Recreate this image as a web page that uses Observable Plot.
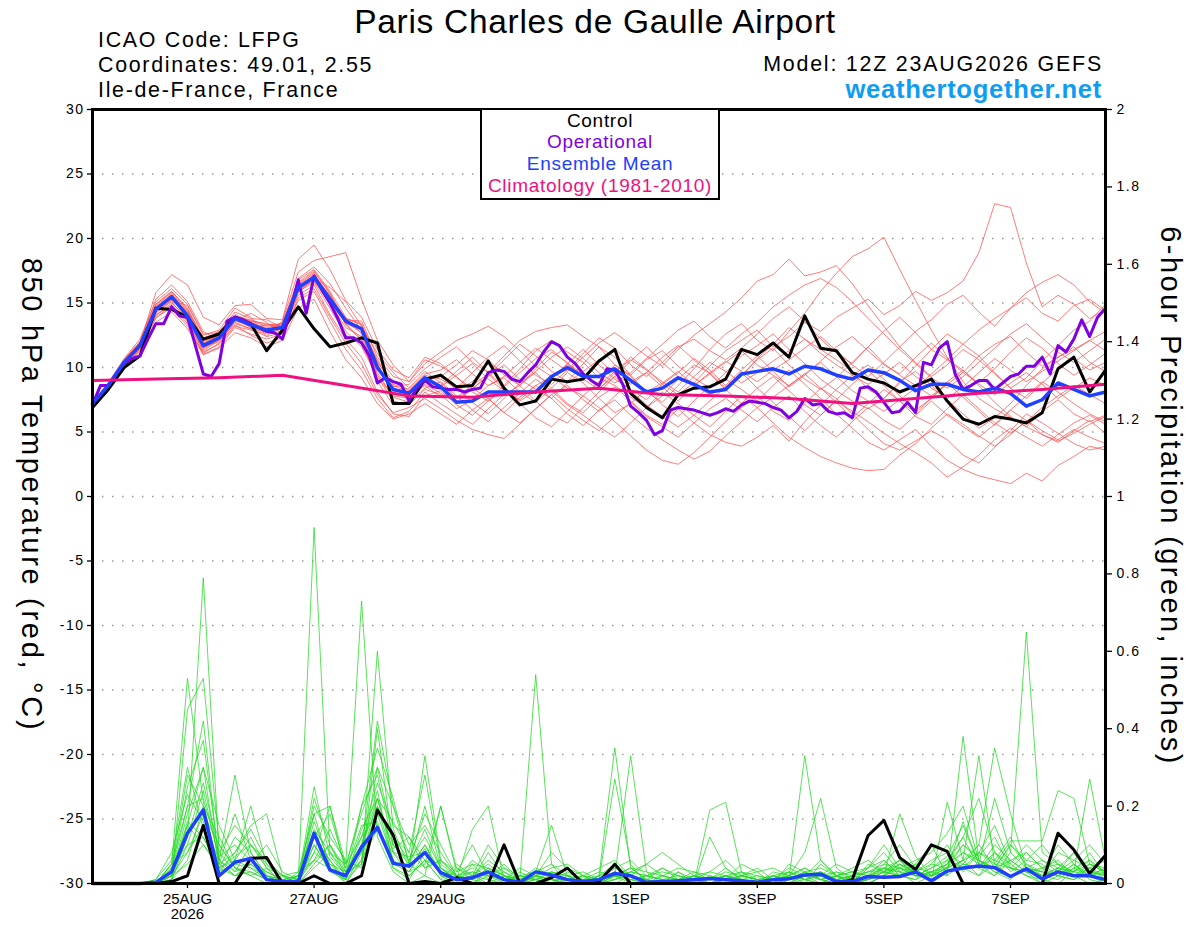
<!DOCTYPE html>
<html>
<head>
<meta charset="utf-8">
<script src="https://cdn.jsdelivr.net/npm/d3@7"></script>
<script src="https://cdn.jsdelivr.net/npm/@observablehq/plot@0.6"></script>
<style>
html, body { margin: 0; padding: 0; background: #fff; }
#chart { position: relative; width: 1200px; height: 927px; }
</style>
</head>
<body>
<div id="chart"></div>
<script>
// ---------- time base ----------
const runStartUTC = Date.UTC(2026, 7, 23, 12); // 12Z 23AUG2026
const stepHours = 6;
const operStepHours = 3;
const climStepHours = 24;

// ---------- 850 hPa temperature (°C) ----------
const controlTemp = [6.9,8.3,10.0,10.9,14.6,14.5,13.9,12.2,12.6,13.9, 13.4,11.3,12.9,14.7,13.0,11.6,11.9,12.3,11.9,7.2, 7.2,9.1,9.4,8.5,8.6,10.5,8.4,7.1,7.4,9.1, 8.9,9.1,10.5,11.4,8.0,6.9,6.1,7.9,8.4,8.5, 9.1,11.4,11.0,11.9,10.8,14.0,11.5,11.3,9.6,9.1, 8.8,8.1,8.6,9.1,7.4,6.0,5.6,6.2,6.0,5.7, 6.5,9.9,10.8,8.1,9.8];
const meanTemp = [7.2,8.6,10.4,11.7,14.5,15.5,14.0,11.7,12.3,13.8, 13.3,12.9,13.1,16.2,17.0,15.3,13.6,13.0,10.0,8.3, 8.0,9.2,8.5,7.3,7.4,8.1,8.1,8.1,8.1,9.3, 10.0,9.3,9.3,9.9,9.0,8.1,8.4,9.2,8.7,8.1, 8.3,9.5,9.7,9.9,9.5,10.1,9.9,9.4,9.1,9.8, 9.6,9.0,8.2,8.7,8.7,8.3,8.1,8.4,8.0,7.0, 7.5,8.8,8.3,7.8,8.1];
const operTemp = [7.1,8.6,8.6,9.5,10.3,10.7,10.9,12.2,13.4,13.4, 14.7,14.0,13.9,11.7,9.5,9.3,10.3,13.6,13.9,13.7, 13.4,13.1,12.8,12.7,12.2,14.4,16.8,14.2,17.1,16.0, 15.0,13.8,12.3,12.3,11.9,10.9,8.8,9.2,8.9,8.7, 7.4,8.4,9.0,
  8.5,8.4,8.3,8.3,8.1,8.3,8.4,9.6,9.8,9.7, 9.1,8.9,9.6,10.2,11.2,12.0,11.7,10.8,10.3,9.5, 9.0,8.6,9.9,9.8,8.7,7.0,6.5,5.9,4.8,5.1, 6.7,6.9,6.8,6.7,6.5,6.3,6.5,6.8,6.6,7.1, 7.4,7.3,
  7.2,6.9,6.7,6.1,6.6,7.6,7.1,7.2,6.6,6.4, 6.5,6.1,8.4,8.5,8.1,7.3,6.5,6.6,7.3,6.5, 10.4,10.2,11.5,12.0,9.5,8.3,8.6,9.0,9.0,8.3, 8.8,9.3,9.5,10.1,10.1,10.8,9.5,11.7,11.2,12.2, 13.7,12.4,13.9,14.6];
const climTemp = [9.0,9.1,9.2,9.4,8.6,7.8,7.7,8.1,8.4,7.9,7.8,7.6,7.2,7.6,8.0,8.3,8.7];

const memberTemps = [
 [7.0,8.4,10.2,11.9,14.9,15.9,14.6,12.1,12.8,14.1,13.6,13.2,13.4, 16.8,17.6,15.9,13.9,12.6,9.4,7.8,7.6,8.8, 9.5,8.2,8.9,10.3,9.7,8.6,9.9,11.2,10.4,9.1,8.3,9.6,10.8,9.9,8.7,7.9,8.8,10.1,11.3, 12.1,12.9,11.6,12.4,13.5,12.8,13.9,14.6,15.3,14.1,14.8,15.9,15.2,15.8,16.7,18.9,22.7,22.4,18.1,14.7,15.6,14.9,13.8,14.5],
 [7.3,8.8,10.6,12.0,15.3,16.4,15.1,12.8,12.1,13.6,14.2,13.5,12.6, 15.8,16.9,16.2,15.1,13.2,11.1,9.6,8.4,9.7, 8.8,7.6,8.3,9.4,10.6,11.8,10.9,9.7,8.9,10.3,11.6,10.8,9.4,8.1,7.3,8.6,9.9,11.4,12.6, 13.4,12.1,11.3,12.8,14.2,15.9,17.3,18.6,19.2,20.1,17.6,15.2,12.9,10.8,8.9,7.6,6.8,6.1,5.4,4.8,4.3,4.9,5.6,6.2],
 [6.9,8.5,10.5,11.8,14.2,15.2,14.8,12.5,12.9,14.6,13.9,12.4,13.6, 17.4,18.3,18.6,18.9,15.3,12.1,10.2,8.9,10.6, 10.1,9.3,8.1,7.4,8.6,9.9,11.3,12.1,11.2,10.4,9.2,8.6,7.7,6.9,7.8,9.1,10.2,9.6,8.4, 9.3,10.7,11.8,13.1,12.2,11.4,10.6,9.7,8.3,7.6,8.8,10.1,11.4,12.6,11.8,10.9,9.6,8.4,9.2,10.5,11.7,12.9,13.6,14.9],
 [7.0,8.4,10.1,11.4,13.8,14.9,13.6,11.2,11.8,13.2,12.9,12.6,12.8, 15.6,16.4,14.1,12.2,10.8,8.1,6.4,6.2,7.8, 8.2,7.1,6.3,7.4,8.3,7.2,6.1,5.4,6.6,7.8,6.9,5.8,4.7,3.6,2.8,2.5,3.4,4.6,5.8, 6.9,7.8,6.6,5.9,7.2,8.4,7.6,6.4,5.2,4.1,3.6,4.3,5.1,4.4,3.2,2.6,3.8,5.1,6.4,5.7,4.9,4.1,3.6,3.9],
 [7.2,8.7,10.4,11.7,14.4,15.6,14.2,11.9,12.4,13.9,13.1,13.3,13.4, 16.5,17.4,15.8,13.3,12.1,9.8,8.5,8.7,9.9, 10.8,11.6,10.4,9.6,10.9,12.1,12.8,13.1,13.3,12.4,11.6,10.2,9.4,10.6,11.3,10.1,9.2,8.4,9.6, 10.9,11.7,12.6,11.4,10.3,9.1,8.2,7.4,6.8,7.6,8.9,9.7,8.6,7.5,6.4,5.3,6.1,7.2,8.6,9.9,10.8,11.6,10.4,9.7],
 [7.1,8.6,10.3,11.6,14.7,15.4,13.8,11.4,12.2,13.7,13.5,13.0,12.9, 16.1,16.8,14.9,12.8,11.6,9.3,7.4,7.1,8.3, 7.9,6.8,7.5,8.6,9.2,8.1,7.3,8.4,9.6,8.8,7.6,6.5,7.2,8.3,7.1,6.2,7.4,8.6,9.1, 8.3,7.4,8.6,9.8,8.7,7.6,6.4,5.3,4.2,3.6,4.4,5.2,3.9,2.8,2.1,1.6,1.3,1.0,1.8,1.2,2.4,3.1,3.9,3.6],
 [7.3,8.5,10.6,11.9,14.6,15.3,14.0,11.6,12.0,13.5,13.0,12.8,13.2, 16.3,17.2,15.4,13.8,13.4,10.3,8.1,7.6,9.1, 8.5,9.4,10.3,9.1,8.2,7.5,8.6,9.3,8.4,7.8,8.9,10.2,9.3,8.1,8.8,9.7,8.6,7.9,8.5, 9.4,10.6,11.5,10.2,9.1,8.3,9.2,10.4,11.6,10.3,9.4,8.6,7.8,8.7,9.6,10.9,11.8,12.4,11.2,10.1,10.8,11.4,12.1,11.3],
 [6.8,8.3,10.0,11.5,14.1,14.8,13.4,11.0,11.6,13.1,12.6,12.2,12.6, 15.2,15.9,13.6,11.4,9.8,7.6,6.1,6.6,8.1, 7.2,6.4,5.6,6.8,7.9,8.6,7.4,6.3,5.7,6.9,8.1,9.3,8.2,7.1,6.2,5.4,6.3,7.4,8.5, 9.6,8.4,7.3,6.2,5.1,6.3,7.4,6.6,5.8,4.9,4.1,3.4,2.6,1.5,2.3,3.2,4.4,5.3,4.6,3.9,4.8,5.7,6.3,5.6],
 [7.2,8.8,10.7,12.2,15.1,16.1,14.9,12.6,12.7,14.3,13.8,13.7,13.1, 16.9,17.8,16.5,14.6,12.9,10.6,8.9,8.2,9.4, 9.1,8.4,9.6,10.8,11.7,10.5,9.4,8.7,9.8,11.1,12.3,11.5,10.2,9.3,10.4,11.6,12.2,11.3,10.6, 11.5,12.6,13.8,14.7,13.6,12.2,11.1,10.3,11.6,12.8,13.9,12.7,11.4,10.6,11.8,12.9,13.8,14.6,15.4,14.2,13.6,14.8,15.3,14.4],
 [7.0,8.6,10.3,11.5,14.3,15.1,13.6,11.3,12.1,13.4,13.0,12.4,12.7, 15.9,16.6,14.6,12.5,11.9,9.1,7.9,7.8,8.6, 7.7,8.5,7.3,6.4,7.6,8.8,9.6,8.4,7.2,6.5,7.7,8.5,7.4,6.3,5.6,6.8,5.7,4.8,4.2, 3.9,4.6,5.5,4.3,5.8,7.1,8.3,9.4,10.2,9.1,7.8,6.7,7.6,8.9,9.8,8.6,7.3,6.2,5.4,6.6,7.5,6.4,5.8,6.3],
 [7.1,8.7,10.5,11.8,14.7,15.7,14.3,12.0,12.5,13.9,13.4,13.1,13.3, 16.2,17.1,15.6,13.5,13.1,10.4,8.7,8.3,9.5, 9.8,10.6,9.5,8.6,9.3,10.4,11.5,10.6,9.7,10.8,11.9,12.7,11.8,10.9,10.1,11.4,12.5,13.4,14.3, 15.4,16.7,17.2,18.4,17.1,17.4,17.9,16.5,14.8,13.2,11.6,10.4,9.3,10.2,11.4,10.6,9.5,8.4,7.6,8.8,9.9,10.7,9.8,10.4],
 [6.9,8.4,10.2,11.6,14.0,15.0,13.9,11.8,12.6,14.0,13.6,13.4,13.0, 16.0,16.7,15.0,13.1,12.4,9.6,7.7,7.3,8.4, 8.9,7.8,6.7,5.8,6.9,8.0,9.1,8.2,7.1,6.3,5.4,4.6,5.7,6.9,8.1,7.2,6.3,5.4,6.6, 7.8,6.9,5.7,4.6,3.8,3.1,2.6,2.2,2.0,2.1,3.2,4.1,5.3,6.4,5.6,4.7,3.9,4.8,5.9,5.1,4.4,5.2,4.6,4.1],
 [7.2,8.6,10.4,11.9,14.8,15.8,14.4,12.2,12.3,13.6,13.2,12.8,13.5, 16.6,17.5,15.7,13.7,13.6,10.8,9.3,8.9,10.3, 11.2,12.1,12.6,13.2,12.4,11.3,10.1,9.3,10.2,9.4,8.6,9.7,10.6,9.8,8.9,8.1,9.3,10.4,9.7, 8.8,9.6,10.5,11.3,12.2,11.1,10.2,9.4,8.7,9.5,10.4,9.3,8.4,7.6,8.5,9.6,10.7,9.8,8.9,9.7,10.5,11.3,12.1,12.8],
 [7.0,8.5,10.2,11.6,14.4,15.2,14.1,11.5,12.2,13.8,13.1,12.7,13.0, 16.3,17.0,15.2,13.4,12.2,8.9,7.1,7.4,8.7, 8.0,7.3,8.4,7.6,6.5,7.7,8.6,7.6,6.4,5.5,6.7,7.5,6.3,5.3,4.4,3.6,2.9,3.5,4.7, 5.8,6.9,7.7,8.6,9.5,8.4,7.3,6.1,7.2,8.3,7.4,6.2,5.6,6.8,7.9,6.8,5.7,4.9,5.8,6.9,7.8,8.6,7.9,7.2],
 [7.3,8.8,10.6,12.0,14.9,15.9,14.5,12.3,12.7,14.0,13.3,13.0,13.2, 16.4,17.3,15.5,13.8,13.3,10.5,8.6,8.1,9.2, 8.6,9.7,10.8,9.6,8.5,9.6,10.7,11.4,10.3,9.5,8.4,9.3,10.5,11.6,10.4,9.3,8.6,9.6,10.5, 9.7,8.9,9.8,10.6,11.5,12.4,11.3,10.2,9.3,10.4,11.6,12.8,13.7,14.9,15.6,14.3,13.2,14.6,15.8,16.6,17.2,16.4,15.1,14.2],
 [6.9,8.3,10.1,11.4,13.9,14.6,13.2,11.1,11.9,13.3,12.5,11.9,12.3, 15.4,16.1,13.9,11.9,10.3,7.9,6.5,6.9,7.6, 6.8,5.9,5.2,4.8,4.5,5.6,6.8,7.9,8.6,7.5,6.6,7.8,8.9,9.6,8.5,7.4,8.6,9.5,8.3, 7.2,8.4,9.3,8.2,7.1,6.3,7.5,8.7,9.8,8.6,7.4,6.5,7.6,8.8,7.7,6.6,5.5,6.7,7.8,8.9,8.1,7.2,6.4,5.8],
 [7.1,8.6,10.4,11.7,14.6,15.5,14.1,11.7,12.4,13.7,13.3,12.9,13.1, 16.2,17.1,15.2,13.5,12.7,9.9,8.2,8.0,9.3, 8.4,7.7,8.6,9.5,8.3,7.4,8.2,9.1,10.3,11.4,10.2,9.1,8.3,7.5,8.7,9.6,10.7,9.8,8.6, 9.8,10.9,9.7,8.5,9.4,10.5,11.6,12.4,11.3,10.2,9.5,10.8,11.9,10.7,9.6,8.8,9.9,11.2,12.3,11.5,10.3,9.4,10.2,11.1],
 [7.2,8.7,10.5,11.9,15.8,17.2,16.4,13.9,13.3,14.8,14.9,13.8,13.7, 18.4,19.5,17.6,15.2,13.9,11.4,9.8,9.2,10.8, 10.3,9.2,8.4,9.3,10.2,9.1,8.3,7.6,8.8,9.7,10.6,9.5,8.7,9.6,10.8,11.7,10.6,9.5,10.4, 11.3,10.2,9.4,8.6,9.5,10.4,9.3,8.2,7.4,6.6,7.5,8.4,9.5,10.6,9.8,8.7,7.9,8.8,9.6,8.7,7.6,8.4,9.2,8.6],
 [6.8,8.2,9.9,11.3,13.5,14.3,13.0,11.0,11.5,12.7,12.3,11.6,12.1, 14.6,15.3,12.8,10.6,9.2,7.2,6.0,6.4,7.2, 6.4,5.6,6.7,7.6,6.5,5.7,6.8,7.9,6.8,5.9,5.1,6.2,7.3,6.2,5.4,4.6,5.7,6.8,7.6, 6.7,5.8,6.9,7.8,6.6,5.5,4.6,5.8,6.9,5.9,5.2,6.3,7.4,6.3,5.4,4.6,5.6,6.7,5.9,4.8,4.2,5.1,5.9,4.9],
 [7.1,8.5,10.3,11.6,14.5,15.3,14.3,12.1,12.5,13.9,13.7,13.3,13.3, 16.0,16.9,15.1,13.4,12.9,10.1,8.4,7.9,9.0, 9.3,10.2,11.3,10.6,9.4,8.6,9.7,10.8,11.6,10.7,9.6,8.8,9.6,10.7,11.8,12.9,13.6,12.4,11.5, 12.6,13.5,14.7,15.6,16.4,16.9,16.2,15.1,13.8,12.6,11.4,10.3,9.2,8.4,9.3,10.4,11.5,12.6,13.4,12.3,11.2,10.4,11.3,12.2]
];

// ---------- 6-hour precipitation (inches) ----------
const controlPrecip = [0,0,0,0,0,0.005,0.02,0.15,0,0, 0.065,0.067,0,0,0.02,0,0,0.02,0.19,0.125, 0,0.005,0,0.015,0,0,0.10,0,0,0.015, 0.04,0,0.005,0.05,0,0,0,0,0,0, 0,0,0,0,0,0,0,0,0.01,0.124, 0.163,0.067,0.036,0.10,0.083,0,0,0,0,0, 0,0.13,0.087,0.026,0.073];
const meanPrecip = [0,0,0,0,0.003,0.03,0.13,0.19,0.02,0.055, 0.065,0.01,0.005,0.005,0.13,0.035,0.02,0.094,0.145,0.052, 0.045,0.08,0.028,0.01,0.015,0.03,0.01,0.003,0.03,0.022, 0.01,0.005,0.01,0.026,0.02,0.003,0.005,0.007,0.01,0.013, 0.01,0.007,0.003,0.01,0.012,0.022,0.024,0.005,0.005,0.018, 0.016,0.018,0.03,0.007,0.032,0.04,0.045,0.041,0.018,0.038, 0.012,0.03,0.02,0.02,0.01];
const memberPrecips = [
 [0,0,0,0,0,0.02,0.12,0.79,0.08,0.03, 0.05,0.01,0,0,0.18,0.04,0,0.06,0.22,0.08, 0.02,0.06,0.01,0,0,0.03,0,0,0.02,0, 0,0,0.01,0.04,0.02,0,0,0,0.01,0, 0,0,0,0.02,0,0.03,0.01,0,0,0.04, 0.08,0.03,0,0.02,0.05,0.12,0.04,0.02,0.06,0.03, 0,0.02,0.05,0.01,0],
 [0,0,0,0,0,0.05,0.53,0.21,0.02,0.06, 0.12,0.04,0,0.01,0.92,0.08,0.02,0.1,0.15,0.04, 0.01,0.08,0.03,0,0.02,0,0,0.01,0.54,0.05, 0,0,0,0.02,0,0,0,0.01,0,0, 0.02,0,0.01,0,0,0,0.05,0.02,0,0.01, 0.05,0.1,0.04,0,0.03,0.06,0.02,0.08,0.04,0.02, 0.01,0,0.03,0.06,0.02],
 [0,0,0,0,0,0.01,0.45,0.53,0.1,0.04, 0.02,0,0,0.02,0.08,0.2,0.05,0.73,0.12,0.03, 0,0.02,0,0.04,0.01,0,0.02,0,0.01,0.03, 0.01,0,0.02,0.35,0.04,0.01,0,0,0,0, 0,0,0,0.01,0.02,0,0,0,0,0.02, 0.06,0.02,0.01,0.05,0.1,0.03,0.08,0.15,0.05,0.02, 0,0.04,0.02,0,0.01],
 [0,0,0,0,0,0.03,0.25,0.37,0.06,0.28, 0.08,0.02,0,0.03,0.06,0.1,0.03,0.05,0.6,0.14, 0.04,0.33,0.06,0.02,0,0.02,0.04,0.01,0,0.02, 0,0.01,0.03,0.02,0.33,0.03,0,0,0.02,0, 0.01,0,0,0,0.03,0.01,0,0.02,0.04,0.06, 0.03,0.02,0.05,0.1,0.02,0.38,0.06,0.03,0.01,0.05, 0.02,0.01,0.04,0.02,0],
 [0,0,0,0,0,0.02,0.18,0.3,0.04,0.06, 0.2,0.05,0.01,0,0.12,0.06,0,0.08,0.42,0.2, 0.05,0.02,0.2,0.03,0.1,0.02,0,0,0.03,0.15, 0.02,0,0.01,0.27,0.05,0,0,0.01,0,0.12, 0.04,0.01,0,0,0,0.02,0.03,0,0.01,0, 0.02,0.05,0.03,0.01,0.21,0.06,0.33,0.05,0.02,0.04, 0.03,0.02,0.01,0.04,0.02],
 [0,0,0,0,0,0.04,0.1,0.12,0.03,0.08, 0.15,0.18,0.02,0.01,0.2,0.12,0.06,0.04,0.4,0.09, 0.12,0.06,0.04,0.01,0.14,0.2,0.01,0,0.02,0.01, 0,0.02,0.04,0.06,0.02,0.01,0,0,0,0.19, 0.21,0.03,0,0.01,0.02,0.08,0.22,0.04,0.01,0.03, 0.04,0.02,0.01,0.03,0.02,0.05,0.1,0.35,0.18,0.04, 0.02,0.03,0.06,0.04,0.01],
 [0,0,0,0,0,0.01,0.06,0.2,0.12,0.04, 0.03,0.01,0.02,0,0.04,0.08,0.05,0.18,0.3,0.12, 0.08,0.28,0.05,0.02,0.01,0.04,0,0.02,0.01,0, 0.03,0.01,0,0.03,0.01,0.02,0.04,0.01,0.03,0.02, 0.01,0.05,0.03,0,0.01,0.33,0.06,0.02,0,0.01, 0.02,0.18,0.07,0.02,0.03,0.04,0.02,0.05,0.11,0.11, 0.11,0.24,0.22,0.05,0.03],
 [0,0,0,0,0,0.02,0.08,0.15,0.05,0.02, 0.05,0.1,0.03,0.01,0.25,0.07,0.02,0.12,0.18,0.06, 0.03,0.1,0.02,0,0.05,0.01,0.03,0,0.02,0.01, 0.01,0.01,0,0.02,0.03,0.05,0.08,0.05,0.02,0.01, 0.02,0.01,0,0.03,0.02,0.04,0.01,0.03,0.01,0.02, 0.03,0.06,0.02,0.02,0.04,0.16,0.05,0.02,0.08,0.65, 0.08,0.05,0.03,0.27,0.06],
 [0,0,0,0,0,0.05,0.2,0.22,0.07,0.1, 0.06,0.03,0.01,0.02,0.12,0.18,0.04,0.2,0.28,0.1, 0.06,0.12,0.04,0.01,0.02,0.05,0.02,0.01,0.04,0.02, 0.01,0,0.02,0.04,0.06,0.02,0.01,0,0.02,0.03, 0.06,0.02,0.01,0,0.05,0.03,0.01,0,0.02,0.04, 0.1,0.04,0.06,0.08,0.13,0.2,0.06,0.04,0.1,0.05, 0.03,0.1,0.05,0.02,0.04],
 [0,0,0,0,0.01,0.06,0.3,0.14,0.04,0.12, 0.08,0.02,0,0.01,0.16,0.05,0.01,0.14,0.22,0.16, 0.08,0.04,0.06,0.02,0.01,0.08,0.02,0,0.01,0.03, 0.02,0.01,0.01,0.02,0.04,0.01,0,0.03,0.01,0, 0.02,0.03,0.01,0.02,0,0.01,0.02,0.05,0.03,0.02, 0.04,0.03,0.02,0.04,0.06,0.12,0.22,0.08,0.03,0.06, 0.05,0.02,0.04,0.06,0.03],
 [0,0,0,0,0,0.03,0.15,0.3,0.15,0.06, 0.04,0.02,0.01,0,0.1,0.04,0.02,0.06,0.3,0.2, 0.1,0.15,0.08,0.02,0.03,0.02,0.05,0.01,0,0.01, 0,0,0.02,0.01,0.02,0.01,0.04,0.02,0.01,0, 0.01,0.02,0.04,0.01,0.03,0.02,0,0.01,0.02,0.03, 0.05,0.04,0.03,0.06,0.08,0.05,0.04,0.1,0.06,0.03, 0.02,0.04,0.03,0.08,0.02],
 [0,0,0,0,0.01,0.08,0.23,0.16,0.06,0.03, 0.1,0.06,0.02,0.03,0.18,0.2,0.03,0.1,0.24,0.05, 0.03,0.09,0.02,0.01,0.06,0.03,0.01,0.04,0.02,0.08, 0.04,0.02,0.01,0.03,0.01,0,0.02,0.04,0.03,0.01, 0.04,0.01,0,0.02,0.01,0.03,0.04,0.02,0,0.01, 0.03,0.02,0.04,0.03,0.05,0.1,0.07,0.12,0.04,0.08, 0.04,0.06,0.02,0.05,0.03],
 [0,0,0,0,0,0.02,0.05,0.1,0.04,0.02, 0.03,0.01,0,0.02,0.06,0.04,0.01,0.1,0.2,0.06, 0.03,0.05,0.2,0.04,0.02,0.01,0,0.03,0.01,0, 0.02,0.03,0.01,0,0.02,0.05,0.02,0.01,0,0.02, 0.01,0.02,0.03,0.04,0.02,0.01,0,0.02,0.03,0.04, 0.06,0.02,0.03,0.05,0.04,0.08,0.06,0.04,0.1,0.06, 0.1,0.05,0.02,0.04,0.06],
 [0,0,0,0,0,0.01,0.12,0.26,0.08,0.15, 0.1,0.04,0,0,0.08,0.05,0.03,0.15,0.16,0.04, 0.02,0.06,0.01,0.05,0.02,0.06,0.03,0.01,0.02,0.04, 0.05,0.02,0,0.01,0.03,0.02,0.01,0,0.02,0.01, 0.03,0.02,0.01,0,0.02,0.04,0.02,0.01,0,0.05, 0.03,0.06,0.02,0.04,0.07,0.15,0.05,0.22,0.08,0.04, 0.06,0.03,0.08,0.03,0.02],
 [0,0,0,0,0,0.04,0.28,0.2,0.03,0.05, 0.04,0.01,0,0.01,0.1,0.03,0.01,0.2,0.35,0.22, 0.05,0.2,0.04,0.02,0.01,0.03,0.01,0,0.02,0.01, 0,0.01,0.02,0.05,0.02,0.01,0,0.03,0,0, 0.01,0.03,0.02,0.01,0.04,0.02,0.06,0.02,0.01,0, 0.02,0.05,0.03,0.02,0.06,0.04,0.08,0.06,0.12,0.04, 0.02,0.08,0.06,0.1,0.05],
 [0,0,0,0,0,0.03,0.2,0.42,0.05,0.18, 0.06,0.03,0.01,0,0.05,0.1,0.04,0.08,0.18,0.12, 0.06,0.18,0.1,0.02,0.04,0.02,0.01,0.02,0.03,0.05, 0.02,0,0.01,0.02,0.01,0.02,0.03,0.02,0.01,0.03, 0.02,0.01,0,0.02,0.03,0.01,0.02,0.03,0.02,0.01, 0.04,0.03,0.05,0.02,0.04,0.06,0.1,0.04,0.06,0.08, 0.04,0.02,0.05,0.02,0.01],
 [0,0,0,0,0,0.02,0.15,0.1,0.05,0.08, 0.14,0.06,0.02,0,0.22,0.1,0.02,0.06,0.14,0.08, 0.04,0.1,0.03,0.01,0.02,0.1,0.04,0.02,0.01,0, 0.01,0.02,0,0.01,0.03,0.02,0.01,0,0,0.01, 0.02,0,0.01,0.02,0.01,0.03,0.01,0.02,0.01,0, 0.02,0.04,0.02,0.01,0.03,0.05,0.04,0.08,0.05,0.1, 0.06,0.04,0.08,0.02,0.03],
 [0,0,0,0,0,0.05,0.08,0.18,0.1,0.04, 0.02,0.04,0.02,0.01,0.06,0.14,0.05,0.12,0.26,0.15, 0.12,0.04,0.06,0.03,0.05,0.04,0.02,0.01,0.03,0.02, 0.01,0.02,0.01,0.02,0.04,0.03,0.02,0.01,0.02,0, 0.01,0.02,0.01,0.01,0.02,0.01,0.03,0.01,0.02,0.03, 0.03,0.05,0.02,0.03,0.05,0.08,0.05,0.06,0.04,0.03, 0.04,0.05,0.03,0.05,0.04],
 [0,0,0,0,0,0.01,0.1,0.24,0.06,0.02, 0.05,0.02,0.01,0,0.12,0.06,0.01,0.05,0.2,0.1, 0.05,0.14,0.04,0.01,0.03,0.02,0.01,0,0.02,0.03, 0.02,0.01,0,0.02,0.01,0,0.01,0.02,0.01,0.01, 0.01,0.02,0.01,0,0.01,0.02,0.01,0.02,0.03,0.02, 0.04,0.06,0.03,0.02,0.04,0.1,0.06,0.03,0.02,0.04, 0.03,0.02,0.01,0.03,0.02],
 [0,0,0,0,0,0.02,0.16,0.12,0.04,0.07, 0.1,0.05,0.01,0.02,0.14,0.08,0.03,0.1,0.22,0.08, 0.07,0.08,0.03,0.02,0.01,0.04,0.02,0.01,0.01,0.02, 0.01,0,0.01,0.03,0.02,0.01,0.02,0.01,0.02,0.01, 0.02,0.01,0.02,0.01,0,0.02,0.03,0.01,0.02,0.01, 0.03,0.04,0.02,0.03,0.04,0.06,0.08,0.05,0.04,0.03, 0.02,0.04,0.03,0.02,0.04]
];

// ---------- axes ----------
const tempTicks = [30,25,20,15,10,5,0,-5,-10,-15,-20,-25,-30];
const gridTemps = [25,20,15,10,5,0,-5,-10,-15,-20,-25];
const precipTickValues = [0,0.2,0.4,0.6,0.8,1,1.2,1.4,1.6,1.8,2];
const precipTickLabels = ["0","0.2","0.4","0.6","0.8","1","1.2","1.4","1.6","1.8","2"];
const precipMax = 2;
const tempMin = -30, tempMax = 30;
const dateTicks = ["2026-08-25","2026-08-27","2026-08-29","2026-09-01","2026-09-03","2026-09-05","2026-09-07"];
const dateTickLabels = ["25AUG\n2026","27AUG","29AUG","1SEP","3SEP","5SEP","7SEP"];

// ---------- helpers (build tables for Plot) ----------
const timeAt = (i, h) => new Date(runStartUTC + i * h * 3600e3);
const rows = (arr, h, key) => arr.map((v, i) => ({t: timeAt(i, h), v, key}));
const toTempSpace = p => tempMin + p * (tempMax - tempMin) / precipMax;
const precipRows = (arr, key) => arr.map((p, i) => ({t: timeAt(i, stepHours), v: toTempSpace(p), key}));

const memberTempRows = memberTemps.flatMap((a, k) => rows(a, stepHours, "m" + k));
const memberPrecipRows = memberPrecips.flatMap((a, k) => precipRows(a, "p" + k));
const precipTickPos = precipTickValues.map(toTempSpace);
const precipLabelMap = new Map(precipTickPos.map((d, i) => [Math.round(d * 1000), precipTickLabels[i]]));
const dateTickObjs = dateTicks.map(s => new Date(s + "T00:00:00Z"));
const dateLabelMap = new Map(dateTickObjs.map((d, i) => [+d, dateTickLabels[i]]));

const FONT = "'Liberation Sans', Arial, Helvetica, sans-serif";

const plot = Plot.plot({
  width: 1200,
  height: 927,
  marginLeft: 92,
  marginRight: 95,
  marginTop: 109,
  marginBottom: 44,
  style: {fontFamily: FONT, background: "#fff", color: "#000"},
  x: {type: "utc", domain: [timeAt(0, stepHours), timeAt(64, stepHours)]},
  y: {domain: [tempMin, tempMax]},
  marks: [
    Plot.gridY(gridTemps, {stroke: "#9a9a9a", strokeOpacity: 1, strokeWidth: 1.4, strokeDasharray: "1.5,8.5"}),
    Plot.line(memberTempRows, {x: "t", y: "v", z: "key", stroke: "#ff5050", strokeWidth: 0.75}),
    Plot.line(memberPrecipRows, {x: "t", y: "v", z: "key", stroke: "#22d822", strokeWidth: 0.75}),
    Plot.line(rows(controlTemp, stepHours, "c"), {x: "t", y: "v", stroke: "#000", strokeWidth: 3}),
    Plot.line(rows(operTemp, operStepHours, "o"), {x: "t", y: "v", stroke: "#7f00e0", strokeWidth: 3}),
    Plot.line(rows(meanTemp, stepHours, "e"), {x: "t", y: "v", stroke: "#2040ff", strokeWidth: 3.5}),
    Plot.line(rows(climTemp, climStepHours, "cl"), {x: "t", y: "v", stroke: "#f0107f", strokeWidth: 3}),
    Plot.line(precipRows(controlPrecip, "cp"), {x: "t", y: "v", stroke: "#000", strokeWidth: 3}),
    Plot.line(precipRows(meanPrecip, "ep"), {x: "t", y: "v", stroke: "#2040ff", strokeWidth: 3.5}),
    Plot.frame({stroke: "#000", strokeWidth: 3}),
    Plot.axisY(tempTicks, {anchor: "left", tickSize: 5, tickPadding: 3, fontSize: 14, strokeWidth: 1.3, label: null, tickFormat: d => String(d)}),
    Plot.axisY(precipTickPos, {anchor: "right", tickSize: 6, tickPadding: 5, fontSize: 14, strokeWidth: 1.3, label: null, tickFormat: d => precipLabelMap.get(Math.round(d * 1000))}),
    Plot.axisX(dateTickObjs, {anchor: "bottom", tickSize: 5, tickPadding: 5, fontSize: 15, strokeWidth: 1.3, label: null, tickFormat: d => dateLabelMap.get(+d)})
  ]
});

document.getElementById("chart").appendChild(plot);
const svg = d3.select(plot);
svg.selectAll('g[aria-label="y-axis tick label"] text').style("letter-spacing", "1.5px");

function addText(x, y, str, o = {}) {
  const t = svg.append("text")
    .attr("x", x).attr("y", y)
    .attr("text-anchor", o.anchor || "start")
    .attr("font-family", FONT)
    .attr("font-size", o.size || 20)
    .attr("fill", o.fill || "#000")
    .style("letter-spacing", (o.ls || 0) + "px")
    .text(str);
  if (o.bold) t.attr("font-weight", "bold");
  if (o.transform) t.attr("transform", o.transform).attr("x", 0).attr("y", 0);
  return t;
}

// Titles
addText(595, 33, "Paris Charles de Gaulle Airport", {anchor: "middle", size: 33.5, ls: 0.7});
addText(98, 47, "ICAO Code: LFPG", {size: 21.4, ls: 1.7});
addText(98, 72, "Coordinates: 49.01, 2.55", {size: 21.4, ls: 1.7});
addText(98, 97, "Ile-de-France, France", {size: 21.4, ls: 1.7});
addText(1103, 71, "Model: 12Z 23AUG2026 GEFS", {anchor: "end", size: 21.4, ls: 1.8});
addText(1102, 98, "weathertogether.net", {anchor: "end", size: 25.6, ls: 0.7, bold: true, fill: "#0f9df2"});

// Axis titles (rotated clockwise)
addText(0, 0, "850 hPa Temperature (red, °C)", {anchor: "middle", size: 29, ls: 2.7, transform: "translate(22,495) rotate(90)"});
addText(0, 0, "6-hour Precipitation (green, inches)", {anchor: "middle", size: 29, ls: 2.4, transform: "translate(1161,496) rotate(90)"});

// Legend box
svg.append("rect").attr("x", 481).attr("y", 109).attr("width", 238).attr("height", 90)
  .attr("fill", "#fff").attr("stroke", "#000").attr("stroke-width", 2);
addText(600, 127, "Control", {anchor: "middle", size: 19, ls: 0.7});
addText(600, 148, "Operational", {anchor: "middle", size: 19, ls: 0.7, fill: "#7f00e0"});
addText(600, 169.5, "Ensemble Mean", {anchor: "middle", size: 19, ls: 0.7, fill: "#2040ff"});
addText(600, 192, "Climatology (1981-2010)", {anchor: "middle", size: 19, ls: 0.7, fill: "#f0107f"});
</script>
</body>
</html>
